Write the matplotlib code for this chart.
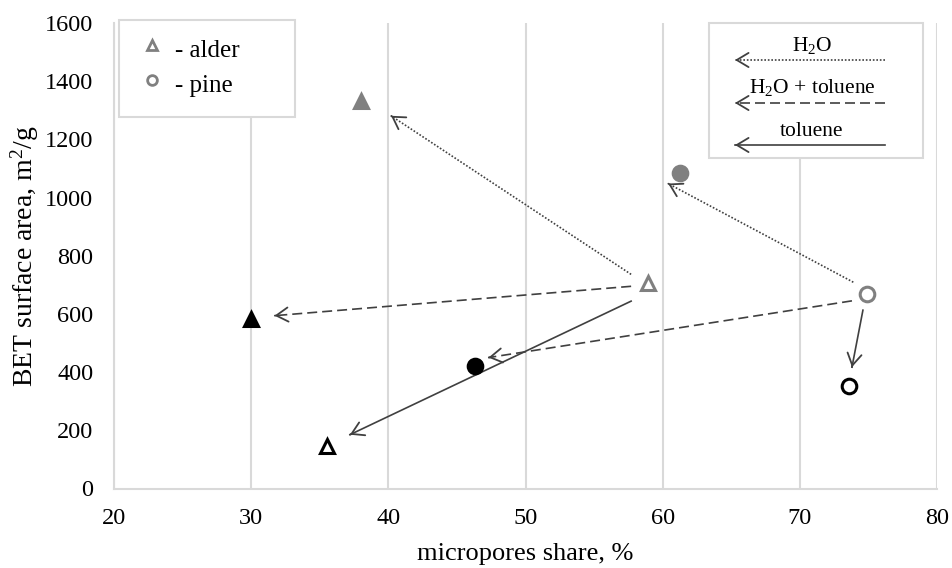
import matplotlib
matplotlib.use("Agg")
import matplotlib.pyplot as plt
from matplotlib.patches import Rectangle, FancyArrowPatch
from matplotlib.lines import Line2D

plt.rcParams["font.family"] = ["Liberation Serif", "DejaVu Serif"]
plt.rcParams["mathtext.fontset"] = "custom"
plt.rcParams["mathtext.rm"] = "Liberation Serif"
plt.rcParams["mathtext.it"] = "Liberation Serif:italic"

# Samples: micropores share (%) and BET surface area (m2/g)
alder_x = [58.9, 38.0, 30.0, 35.5]      # raw, H2O, H2O+toluene, toluene
alder_y = [706, 1333, 582, 145]
pine_x = [74.9, 61.3, 46.3, 73.6]
pine_y = [668, 1083, 422, 354]

# Treatment arrows: (x_start, y_start, x_end, y_end)
h2o_arrows = [(57.7, 736, 40.2, 1281), (73.9, 709, 60.4, 1048)]
mix_arrows = [(57.7, 695, 31.7, 594), (73.8, 645, 47.3, 450)]
tol_arrows = [(57.7, 644, 37.2, 185), (74.6, 613, 73.8, 417)]

x_ticks = [20, 30, 40, 50, 60, 70, 80]
y_ticks = [0, 200, 400, 600, 800, 1000, 1200, 1400, 1600]

GREY = "#808080"
ARROW = "#404040"
GRID = "#d9d9d9"
W, H = 952, 568

fig = plt.figure(figsize=(W / 100, H / 100), dpi=100)
ax = fig.add_axes([114 / W, 1 - 488.5 / H, (937 - 114) / W, (488.5 - 23) / H])
ax.set_xlim(20, 80)
ax.set_ylim(0, 1600)
ax.set_xticks(x_ticks)
ax.set_yticks(y_ticks)
ax.tick_params(length=0, labelsize=17.5)
ax.tick_params(axis="y", pad=15)
ax.tick_params(axis="x", pad=14)
ax.grid(axis="x", color=GRID, linewidth=1.5)
for s in ("top", "right"):
    ax.spines[s].set_visible(False)
for s in ("left", "bottom"):
    ax.spines[s].set_color(GRID)
    ax.spines[s].set_linewidth(1.5)
ax.set_axisbelow(True)

ax.set_xlabel("micropores share, %", fontsize=19, labelpad=10)
ax.set_ylabel("BET surface area, m$^2$/g", fontsize=20, labelpad=3)


def arrow(x0, y0, x1, y1, ls, color=ARROW, transform=None):
    kw = {} if transform is None else {"transform": transform}
    ln = Line2D([x0, x1], [y0, y1], color=color, linewidth=1.2, linestyle=ls, **kw)
    if transform is None:
        ax.add_line(ln)
        tr = ax.transData
    else:
        fig.add_artist(ln)
        tr = transform
    # short solid segment carrying the open arrow head
    f = 0.001
    xa, ya = x1 + (x0 - x1) * f, y1 + (y0 - y1) * f
    head = FancyArrowPatch((xa, ya), (x1, y1), transform=tr,
                           arrowstyle="->,head_length=0.5,head_width=0.3",
                           mutation_scale=17, color=color, linewidth=1.3,
                           shrinkA=0, shrinkB=0)
    if transform is None:
        ax.add_patch(head)
    else:
        fig.add_artist(head)


for a in h2o_arrows:
    arrow(*a, ls=(0, (1, 1.1)))
for a in mix_arrows:
    arrow(*a, ls=(0, (6, 3)))
for a in tol_arrows:
    arrow(*a, ls="-")

ms = 10.5
mew = 2.2
# alder (triangles)
ax.plot(alder_x[0], alder_y[0], "^", ms=ms, mfc="white", mec=GREY, mew=mew, zorder=5)
ax.plot(alder_x[1], alder_y[1], "^", ms=ms, mfc=GREY, mec=GREY, mew=mew, zorder=5)
ax.plot(alder_x[2], alder_y[2], "^", ms=ms, mfc="black", mec="black", mew=mew, zorder=5)
ax.plot(alder_x[3], alder_y[3], "^", ms=ms, mfc="white", mec="black", mew=mew, zorder=5)
# pine (circles)
ax.plot(pine_x[0], pine_y[0], "o", ms=ms, mfc="white", mec=GREY, mew=mew, zorder=5)
ax.plot(pine_x[1], pine_y[1], "o", ms=ms, mfc=GREY, mec=GREY, mew=mew, zorder=5)
ax.plot(pine_x[2], pine_y[2], "o", ms=ms, mfc="black", mec="black", mew=mew, zorder=5)
ax.plot(pine_x[3], pine_y[3], "o", ms=ms, mfc="white", mec="black", mew=mew, zorder=5)


def fx(px):
    return px / W


def fy(py):
    return 1 - py / H


# species key box
fig.add_artist(Rectangle((fx(119), fy(117)), fx(295) - fx(119), fy(20) - fy(117),
                         transform=fig.transFigure, facecolor="white",
                         edgecolor=GRID, linewidth=1.5, zorder=10))
fig.add_artist(Line2D([fx(152)], [fy(45)], marker="^", ms=7, mfc="white", mec=GREY,
                      mew=2, transform=fig.transFigure, zorder=11))
fig.add_artist(Line2D([fx(152)], [fy(80)], marker="o", ms=7, mfc="white", mec=GREY,
                      mew=2, transform=fig.transFigure, zorder=11))
fig.text(fx(175), fy(51), "- alder", fontsize=18, va="center", ha="left", zorder=11)
fig.text(fx(175), fy(86), "- pine", fontsize=18, va="center", ha="left", zorder=11)

# treatment key box
fig.add_artist(Rectangle((fx(709), fy(158)), fx(923) - fx(709), fy(23) - fy(158),
                         transform=fig.transFigure, facecolor="white",
                         edgecolor=GRID, linewidth=1.5, zorder=10))
key = [("H$_2$O", (0, (1, 1.1)), 46, 60),
       ("H$_2$O + toluene", (0, (6, 3)), 88, 103),
       ("toluene", "-", 132, 145)]
for label, ls, ty, ay in key:
    fig.text(fx(812), fy(ty), label, fontsize=15.5, ha="center", va="center", zorder=11)
    ln = Line2D([fx(885), fx(735)], [fy(ay), fy(ay)], color=ARROW, linewidth=1.2,
                linestyle=ls, transform=fig.transFigure, zorder=11)
    fig.add_artist(ln)
    hd = FancyArrowPatch((fx(737), fy(ay)), (fx(735), fy(ay)), transform=fig.transFigure,
                         arrowstyle="->,head_length=0.5,head_width=0.3",
                         mutation_scale=17, color=ARROW, linewidth=1.3,
                         shrinkA=0, shrinkB=0, zorder=11)
    fig.add_artist(hd)

fig.savefig("out.png", dpi=100)
